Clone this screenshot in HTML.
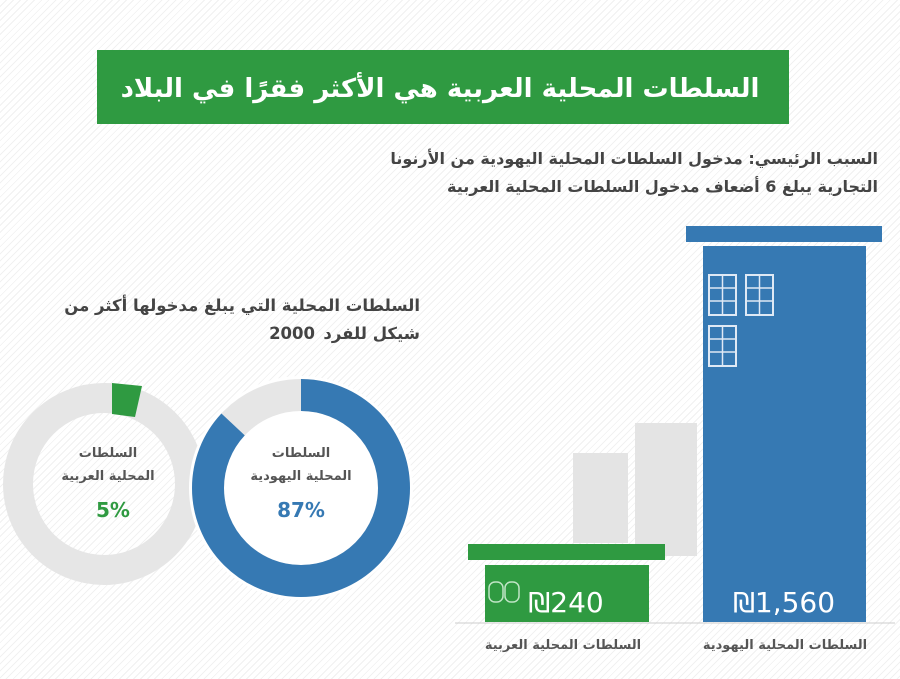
<!DOCTYPE html>
<html><head><meta charset="utf-8"><style>
html,body{margin:0;padding:0}
body{width:900px;height:679px;overflow:hidden;background:#fff repeating-linear-gradient(135deg,#fff 0 4px,#f1f1f1 4px 5px);font-family:"Liberation Sans","Noto Sans CJK SC",sans-serif;position:relative}
svg{position:absolute;left:0;top:0}
</style></head><body>
<svg width="900" height="679" viewBox="0 0 900 679" font-family="'DejaVu Sans','Noto Sans CJK SC',sans-serif">
<rect x="97" y="50" width="692" height="74" fill="#2f9a41"/>
<text x="440" y="97" text-anchor="middle" fill="#fff" font-size="26" font-weight="bold">السلطات المحلية العربية هي الأكثر فقرًا في البلاد</text>
<text x="878" y="164" text-anchor="end" fill="#444" font-size="16" font-weight="bold">السبب الرئيسي: مدخول السلطات المحلية اليهودية من الأرنونا</text>
<text x="878" y="192" text-anchor="end" fill="#444" font-size="16" font-weight="bold">التجارية يبلغ 6 أضعاف مدخول السلطات المحلية العربية</text>
<text x="420" y="311" text-anchor="end" fill="#444" font-size="16.5" font-weight="bold">السلطات المحلية التي يبلغ مدخولها أكثر من</text>
<text x="420" y="339" text-anchor="end" fill="#444" font-size="16.5" font-weight="bold">شيكل للفرد</text>
<text x="315" y="339" text-anchor="end" fill="#444" font-size="16.5" font-weight="bold">2000</text>
<!-- left donut -->
<circle cx="104" cy="484" r="86" fill="none" stroke="#e6e6e6" stroke-width="30"/>
<path d="M112 383 L142 386 L135 417 L112 414 Z" fill="#2f9a41"/>
<text x="108" y="457" text-anchor="middle" fill="#555" font-size="13" font-weight="bold">السلطات</text>
<text x="108" y="480" text-anchor="middle" fill="#555" font-size="13" font-weight="bold">المحلية العربية</text>
<text x="113" y="517" text-anchor="middle" fill="#2f9a41" font-size="20" font-weight="bold">5%</text>
<!-- right donut -->
<circle cx="301" cy="488" r="112" fill="#fff"/>
<circle cx="301" cy="488" r="93" fill="none" stroke="#e6e6e6" stroke-width="32"/>
<circle cx="301" cy="488" r="93" fill="none" stroke="#3679b3" stroke-width="32" stroke-dasharray="508 600" transform="rotate(-90 301 488)"/>
<text x="301" y="457" text-anchor="middle" fill="#555" font-size="13" font-weight="bold">السلطات</text>
<text x="301" y="480" text-anchor="middle" fill="#555" font-size="13" font-weight="bold">المحلية اليهودية</text>
<text x="301" y="517" text-anchor="middle" fill="#3679b3" font-size="20" font-weight="bold">87%</text>
<!-- gray buildings -->
<rect x="573" y="453" width="55" height="90" fill="#e4e4e4"/>
<rect x="635" y="423" width="62" height="133" fill="#e4e4e4"/>
<!-- blue bar -->
<rect x="686" y="226" width="196" height="16" fill="#3679b3"/>
<rect x="703" y="246" width="163" height="376" fill="#3679b3"/>
<g fill="none" stroke="#dfe9f5" stroke-width="2">
<rect x="709" y="275" width="27" height="40"/><rect x="746" y="275" width="27" height="40"/><rect x="709" y="326" width="27" height="40"/>
</g>
<g stroke="#dfe9f5" stroke-width="1.5">
<line x1="722.5" y1="275" x2="722.5" y2="315"/><line x1="709" y1="288" x2="736" y2="288"/><line x1="709" y1="301" x2="736" y2="301"/>
<line x1="759.5" y1="275" x2="759.5" y2="315"/><line x1="746" y1="288" x2="773" y2="288"/><line x1="746" y1="301" x2="773" y2="301"/>
<line x1="722.5" y1="326" x2="722.5" y2="366"/><line x1="709" y1="339" x2="736" y2="339"/><line x1="709" y1="352" x2="736" y2="352"/>
</g>
<text x="784" y="612" text-anchor="middle" fill="#fff" font-size="28">₪1,560</text>
<!-- green bar -->
<rect x="468" y="544" width="197" height="16" fill="#2f9a41"/>
<rect x="485" y="565" width="164" height="57" fill="#2f9a41"/>
<g fill="none" stroke="#bfe5c5" stroke-width="1.5"><rect x="489" y="582" width="14" height="20" rx="6"/><rect x="505" y="582" width="14" height="20" rx="6"/></g>
<text x="566" y="612" text-anchor="middle" fill="#fff" font-size="28">₪240</text>
<line x1="455" y1="623" x2="895" y2="623" stroke="#ccc" stroke-width="1"/>
<text x="785" y="649" text-anchor="middle" fill="#555" font-size="13" font-weight="bold">السلطات المحلية اليهودية</text>
<text x="563" y="649" text-anchor="middle" fill="#555" font-size="13" font-weight="bold">السلطات المحلية العربية</text>
</svg>
</body></html>
